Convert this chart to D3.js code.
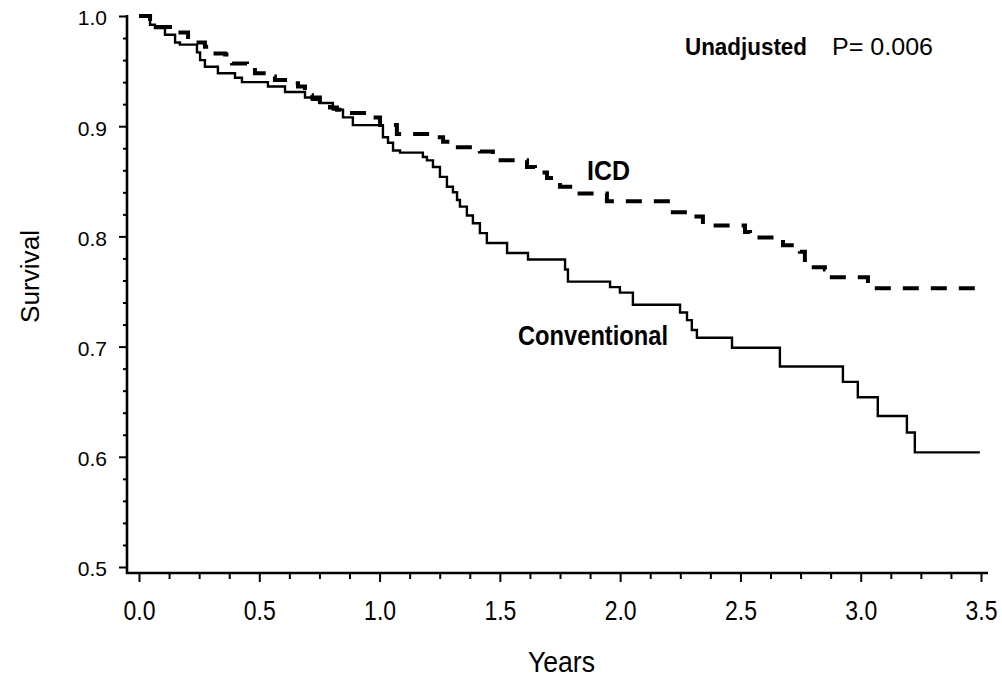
<!DOCTYPE html>
<html>
<head>
<meta charset="utf-8">
<script src="https://cdn.jsdelivr.net/npm/d3@7"></script>
<style>
	body { margin: 0; background: #fff; }
	svg { font-family: "Liberation Sans", Arial, Helvetica, sans-serif; }
</style>
</head>
<body>
<div id="chart"></div>
<script>
	// Kaplan-Meier steps: time of drop (years) and survival after it
	let convTimes = [0, 0.046, 0.066, 0.108, 0.150, 0.170, 0.241, 0.254, 0.274, 0.328, 0.399, 0.428, 0.536, 0.607,
		0.690, 0.719, 0.752, 0.806, 0.848, 0.889, 1.014, 1.035, 1.056, 1.085, 1.180, 1.197, 1.222, 1.251, 1.280,
		1.305, 1.322, 1.334, 1.363, 1.388, 1.417, 1.446, 1.530, 1.617, 1.771, 1.783, 1.958, 1.999, 2.053, 2.249,
		2.278, 2.298, 2.319, 2.465, 2.664, 2.926, 2.988, 3.071, 3.192, 3.225, 3.495];
	let convSurv = [1.0, 0.992, 0.989, 0.983, 0.976, 0.974, 0.967, 0.960, 0.954, 0.948, 0.944, 0.940, 0.936, 0.931,
		0.926, 0.924, 0.921, 0.915, 0.908, 0.901, 0.890, 0.885, 0.878, 0.876, 0.872, 0.869, 0.863, 0.854, 0.845,
		0.840, 0.833, 0.827, 0.819, 0.812, 0.803, 0.794, 0.785, 0.779, 0.770, 0.759, 0.754, 0.749, 0.738, 0.731,
		0.724, 0.715, 0.708, 0.699, 0.682, 0.668, 0.654, 0.637, 0.622, 0.604, 0.604];

	let icdTimes = [0, 0.046, 0.079, 0.150, 0.204, 0.233, 0.274, 0.303, 0.358, 0.387, 0.449, 0.482, 0.536, 0.565,
		0.619, 0.661, 0.690, 0.719, 0.752, 0.794, 0.823, 0.877, 0.960, 1.002, 1.072, 1.239, 1.264, 1.305, 1.417,
		1.471, 1.613, 1.646, 1.696, 1.750, 1.820, 1.945, 2.207, 2.290, 2.344, 2.519, 2.540, 2.677, 2.747, 2.768,
		2.851, 2.859, 3.030, 3.495];
	let icdSurv = [1.0, 0.994, 0.990, 0.985, 0.981, 0.976, 0.972, 0.966, 0.965, 0.957, 0.953, 0.948, 0.945, 0.942,
		0.939, 0.936, 0.928, 0.926, 0.922, 0.917, 0.915, 0.912, 0.908, 0.901, 0.893, 0.890, 0.886, 0.881, 0.877,
		0.869, 0.863, 0.858, 0.853, 0.845, 0.839, 0.832, 0.822, 0.818, 0.810, 0.804, 0.799, 0.792, 0.786, 0.772,
		0.770, 0.763, 0.753, 0.753];

	let xMajor = [0, 0.5, 1.0, 1.5, 2.0, 2.5, 3.0, 3.5];
	let yMajor = [0.5, 0.6, 0.7, 0.8, 0.9, 1.0];

	let width = 1002;
	let height = 677;

	let xScale = d3.scaleLinear().domain([0, 3.5]).range([139, 981]);
	let yScale = d3.scaleLinear().domain([0.5, 1.0]).range([567, 16]);
	let axisY = 573;
	let axisX = 127;

	let svg = d3.select('#chart')
		.append('svg')
		.attr('width', width)
		.attr('height', height);

	// minor ticks
	let xMinor = d3.range(0, 3.5001, 0.125).filter(v => Math.abs(v * 2 - Math.round(v * 2)) > 1e-6);
	let yMinor = d3.range(0.5, 1.0001, 0.02).filter(v => Math.abs(v * 10 - Math.round(v * 10)) > 1e-6);

	svg.append('g')
		.attr('transform', `translate(0,${axisY})`)
		.call(d3.axisBottom(xScale).tickValues(xMinor).tickSize(6).tickFormat(''))
		.call(g => g.select('.domain').remove());
	let gx = svg.append('g')
		.attr('transform', `translate(0,${axisY})`)
		.call(d3.axisBottom(xScale).tickValues(xMajor).tickSize(9).tickFormat(d3.format('.1f')))
		.call(g => g.select('.domain').remove());
	// stretch x labels a little taller, like the original
	gx.selectAll('text')
		.style('font-size', '23px')
		.attr('fill', '#000')
		.attr('y', 0)
		.attr('dy', '0.716em')
		.attr('transform', 'translate(0,27) scale(1,1.2)');

	svg.append('g')
		.attr('transform', `translate(${axisX},0)`)
		.call(d3.axisLeft(yScale).tickValues(yMinor).tickSize(4).tickFormat(''))
		.call(g => g.select('.domain').remove());
	let gy = svg.append('g')
		.attr('transform', `translate(${axisX},0)`)
		.call(d3.axisLeft(yScale).tickValues(yMajor).tickSize(8).tickPadding(12).tickFormat(d3.format('.1f')))
		.call(g => g.select('.domain').remove());
	gy.selectAll('text').style('font-size', '21px').attr('fill', '#000').attr('dy', '0.42em');

	svg.selectAll('.tick line').attr('stroke', '#000').attr('stroke-width', 2);

	// axis lines
	svg.append('path')
		.attr('d', `M${axisX},${yScale(1.0) - 1}V${axisY}H${xScale(3.5) + 7}`)
		.attr('fill', 'none')
		.attr('stroke', '#000')
		.attr('stroke-width', 2.6);

	let line = d3.line()
		.x(d => xScale(d[0]))
		.y(d => yScale(d[1]))
		.curve(d3.curveStepAfter);

	svg.append('path')
		.datum(d3.zip(convTimes, convSurv))
		.attr('d', line)
		.attr('fill', 'none')
		.attr('stroke', '#000')
		.attr('stroke-width', 2.4);

	svg.append('path')
		.datum(d3.zip(icdTimes, icdSurv))
		.attr('d', line)
		.attr('fill', 'none')
		.attr('stroke', '#000')
		.attr('stroke-width', 4)
		.attr('stroke-dasharray', '16,12');

	// Labels
	function label(x, y, txt, size, bold, len, anchor) {
		let t = svg.append('text')
			.attr('x', x).attr('y', y)
			.style('font-size', size + 'px')
			.style('font-weight', bold ? 'bold' : 'normal')
			.style('text-anchor', anchor || 'start')
			.text(txt);
		if (len) t.attr('textLength', len).attr('lengthAdjust', 'spacingAndGlyphs');
		return t;
	}

	label(685, 55, 'Unadjusted', 23, true, 122);
	label(832, 55, 'P= 0.006', 23, false, 101);
	label(587, 180, 'ICD', 28, true, 43);
	label(518, 345, 'Conventional', 28, true, 150);
	label(528, 672, 'Years', 30, false, 67);

	svg.append('text')
		.attr('transform', 'rotate(-90)')
		.attr('x', -323).attr('y', 39)
		.style('font-size', '25px')
		.attr('textLength', 93).attr('lengthAdjust', 'spacingAndGlyphs')
		.text('Survival');
</script>
</body>
</html>
